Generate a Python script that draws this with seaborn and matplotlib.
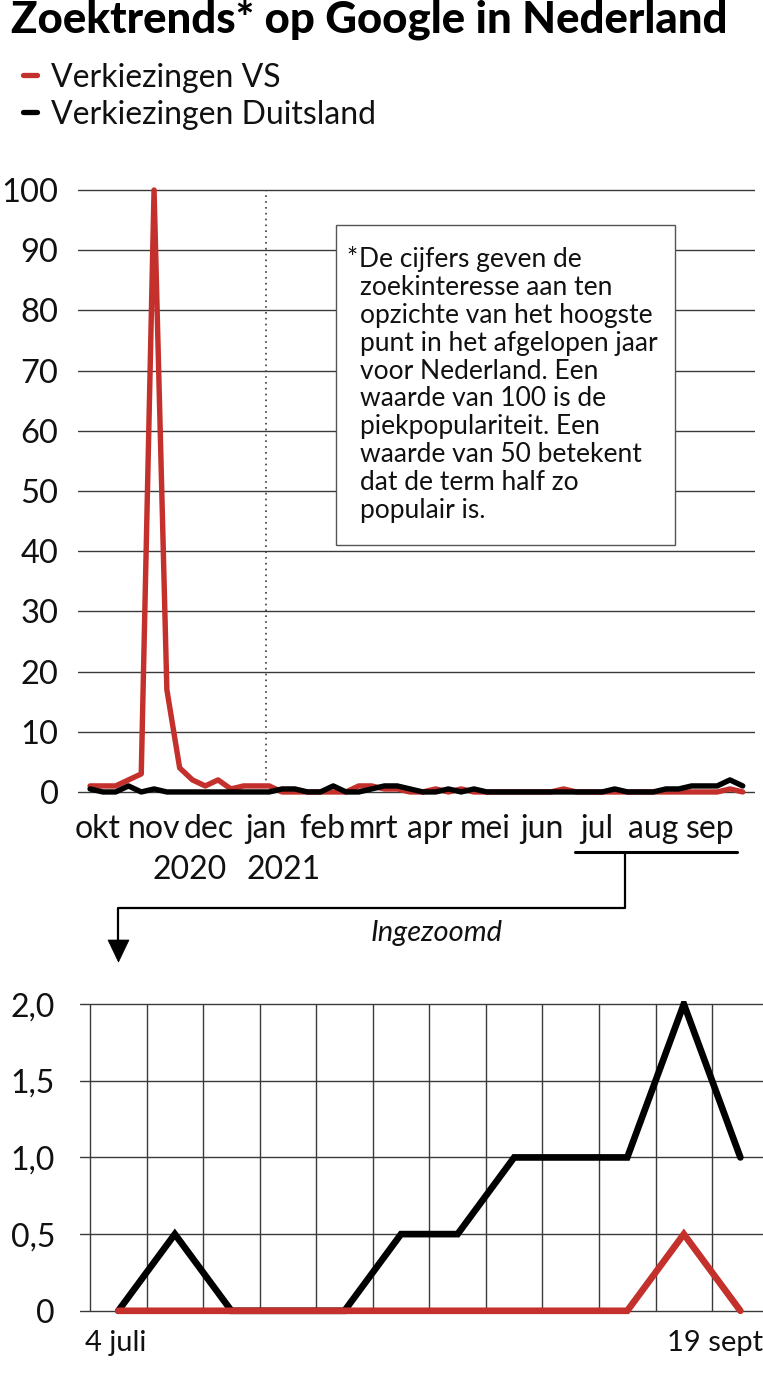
import numpy as np
import pandas as pd
import matplotlib
matplotlib.use("Agg")
import matplotlib.pyplot as plt
import seaborn as sns
from matplotlib.lines import Line2D
from matplotlib.patches import Rectangle, Polygon
import matplotlib.transforms as mtransforms

# ---------------- data ----------------
week_start = "2020-09-27"
week_end = "2021-09-19"
weeks = pd.date_range(week_start, week_end, freq="7D")  # 52 weekly points

verkiezingen_vs = [1, 1, 1, 2, 3, 100, 17, 4, 2, 1, 2, 0.5, 1, 1, 1, 0,
                   0, 0, 0, 0, 0, 1, 1, 0.5, 0.5, 0, 0, 0.5, 0, 0.5, 0, 0,
                   0, 0, 0, 0, 0, 0.5, 0, 0, 0, 0, 0, 0, 0, 0, 0, 0,
                   0, 0, 0.5, 0]
verkiezingen_duitsland = [0.5, 0, 0, 1, 0, 0.5, 0, 0, 0, 0, 0, 0, 0, 0, 0, 0.5,
                          0.5, 0, 0, 1, 0, 0, 0.5, 1, 1, 0.5, 0, 0, 0.5, 0, 0.5, 0,
                          0, 0, 0, 0, 0, 0, 0, 0, 0, 0.5, 0, 0, 0, 0.5, 0.5, 1,
                          1, 1, 2, 1]

month_starts = pd.date_range("2020-10-01", "2021-09-01", freq="MS")
month_labels = ["okt", "nov", "dec", "jan", "feb", "mrt", "apr", "mei", "jun",
                "jul", "aug", "sep"]
y_ticks_top = list(range(0, 101, 10))

zoom_from = 40  # 4 juli
zoom_vs = verkiezingen_vs[zoom_from:]
zoom_de = verkiezingen_duitsland[zoom_from:]
zoom_idx = list(range(len(zoom_vs)))
y_ticks_zoom = [0, 0.5, 1.0, 1.5, 2.0]
y_ticklabels_zoom = ["0", "0,5", "1,0", "1,5", "2,0"]

note_lines = ["De cijfers geven de", "zoekinteresse aan ten",
              "opzichte van het hoogste", "punt in het afgelopen jaar",
              "voor Nederland. Een", "waarde van 100 is de",
              "piekpopulariteit. Een", "waarde van 50 betekent",
              "dat de term half zo", "populair is."]

RED = "#c4302b"
BLACK = "#000000"
GRID = "#3a3a3a"

# ---------------- figure ----------------
sns.set_style("white")
FONT = ["Lato", "DejaVu Sans"]
plt.rcParams["font.family"] = FONT
plt.rcParams["font.weight"] = "normal"
plt.rcParams["text.color"] = "#111111"

W, H = 763, 1383
fig = plt.figure(figsize=(W / 100, H / 100), dpi=100)


def fx(x):
    return x / W


def fy(y):
    return 1 - y / H


def axes_rect(left, top, right, bottom):
    return [fx(left), fy(bottom), (right - left) / W, (bottom - top) / H]


# ---- title & legend ----
fig.text(fx(11), fy(33), "Zoektrends* op Google in Nederland", fontsize=31.5,
         fontweight="black", color="black", va="baseline", ha="left")
for yy, col, lab in [(75, RED, "Verkiezingen VS"), (112, BLACK, "Verkiezingen Duitsland")]:
    fig.add_artist(Line2D([fx(23), fx(37)], [fy(yy), fy(yy)], color=col, lw=3.8,
                          solid_capstyle="round"))
    fig.text(fx(51), fy(yy), lab, fontsize=23, va="center_baseline", ha="left")

# ---- top chart ----
ax = fig.add_axes(axes_rect(78, 184, 755, 804))
ax.set_ylim(-2, 101)
x0 = pd.Timestamp(week_start) - pd.Timedelta(days=6.6)
x1 = pd.Timestamp(week_end) + pd.Timedelta(days=6.7)
ax.set_xlim(x0, x1)
for v in y_ticks_top:
    ax.axhline(v, color=GRID, lw=1.0, zorder=1)
ax.vlines(pd.Timestamp("2021-01-01"), 0, 100, colors=GRID, linestyles=(0, (1, 2.5)),
          lw=1.2, zorder=1)
sns.lineplot(x=weeks, y=verkiezingen_vs, ax=ax, color=RED, lw=3.9, zorder=3,
             solid_capstyle="round", solid_joinstyle="round")
sns.lineplot(x=weeks, y=verkiezingen_duitsland, ax=ax, color=BLACK, lw=3.9, zorder=4,
             solid_capstyle="round", solid_joinstyle="round")
for s in ax.spines.values():
    s.set_visible(False)
ax.set_yticks(y_ticks_top)
ax.set_yticklabels([str(v) for v in y_ticks_top])
ax.set_xticks(month_starts)
ax.set_xticklabels(month_labels)
ax.tick_params(axis="y", length=0, pad=14, labelsize=23.5, labelcolor="#111111")
ax.tick_params(axis="x", length=6, width=1.0, color=GRID, direction="out", pad=1.5,
               labelsize=23, labelcolor="#111111")
ax.set_xlabel("")
ax.set_ylabel("")

# note box
ax.add_patch(Rectangle((fx(336), fy(545)), (675 - 336) / W, (545 - 225) / H,
                       transform=fig.transFigure, facecolor="white", edgecolor="#555555",
                       lw=1.0, zorder=6, clip_on=False))
ax.text(fx(346), fy(267), "*", fontsize=19, transform=fig.transFigure,
        va="baseline", ha="left", zorder=7)
for i, line in enumerate(note_lines):
    ax.text(fx(359 if i == 0 else 360), fy(267 + 27.9 * i), line, fontsize=19,
            transform=fig.transFigure, va="baseline", ha="left", zorder=7)

# year labels
fig.text(fx(190), fy(867), "2020", fontsize=23, ha="center", va="center_baseline")
fig.text(fx(284), fy(867), "2021", fontsize=23, ha="center", va="center_baseline")

# bracket + connector arrow
line_kw = dict(color="black", lw=1.6, solid_capstyle="butt")
fig.add_artist(Line2D([fx(575), fx(737)], [fy(852), fy(852)], color="black", lw=2.2))
fig.add_artist(Line2D([fx(625), fx(625), fx(118), fx(118)],
                      [fy(852), fy(908), fy(908), fy(945)], **line_kw))
fig.add_artist(Polygon([[fx(108), fy(940)], [fx(129), fy(940)], [fx(118.5), fy(962)]],
                       closed=True, transform=fig.transFigure, facecolor="black",
                       edgecolor="black", lw=0.5))
fig.text(fx(437), fy(931), "Ingezoomd", fontsize=21, style="italic",
         ha="center", va="center_baseline")

# ---- zoomed chart ----
ax2 = fig.add_axes(axes_rect(80, 1001, 763, 1320))
ax2.set_ylim(-0.06, 2.02)
ax2.set_xlim(-0.677, 11.4)
for v in y_ticks_zoom:
    ax2.axhline(v, color=GRID, lw=1.0, zorder=1)
ax2.vlines([k - 0.5 for k in zoom_idx], 0, 2.0, colors=GRID, lw=1.0, zorder=1)
sns.lineplot(x=zoom_idx, y=zoom_de, ax=ax2, color=BLACK, lw=4.8, zorder=3,
             solid_capstyle="round", solid_joinstyle="miter")
sns.lineplot(x=zoom_idx, y=zoom_vs, ax=ax2, color=RED, lw=4.8, zorder=4,
             solid_capstyle="round", solid_joinstyle="miter")
for s in ax2.spines.values():
    s.set_visible(False)
ax2.set_yticks(y_ticks_zoom)
ax2.set_yticklabels(y_ticklabels_zoom)
ax2.tick_params(axis="y", length=0, pad=18, labelsize=23, labelcolor="#111111")
ax2.set_xticks([])
ax2.set_xlabel("")
ax2.set_ylabel("")
trans = mtransforms.blended_transform_factory(ax2.transData, fig.transFigure)
ax2.text(-0.58, fy(1340), "4 juli", fontsize=21, transform=trans, ha="left",
         va="center_baseline")
ax2.text(11.4, fy(1340), "19 sept", fontsize=21, transform=trans, ha="right",
         va="center_baseline")

fig.savefig("out.png", dpi=100)
